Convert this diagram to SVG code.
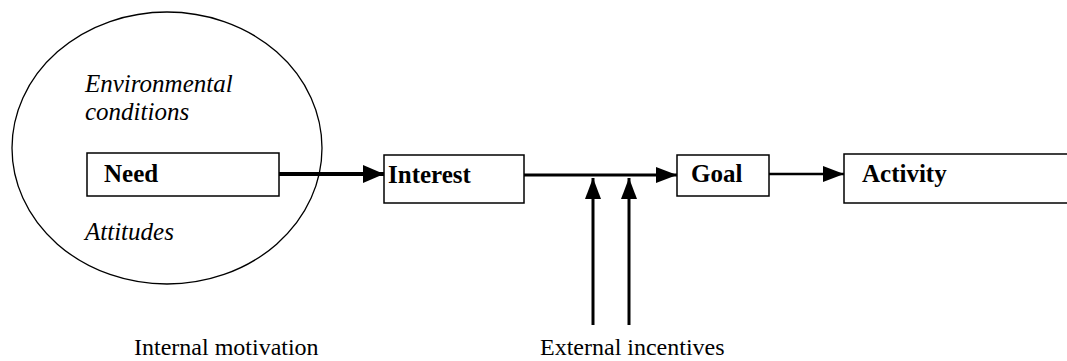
<svg xmlns="http://www.w3.org/2000/svg" width="1067" height="361" viewBox="0 0 1067 361">
  <style>
    .box { fill: #fff; stroke: #000; stroke-width: 1.5; }
    .lbl { font-family: "Liberation Serif", "Times New Roman", serif; font-size: 24px; fill: #000; }
    .b { font-weight: bold; font-size: 25px; }
    .i { font-style: italic; font-size: 25px; }
    .conn { stroke: #000; fill: none; }
  </style>
  <defs>
    <marker id="ah" markerWidth="22" markerHeight="20" refX="21" refY="10" orient="auto" markerUnits="userSpaceOnUse">
      <path d="M0,1 L21,10 L0,19 Z" fill="#000"/>
    </marker>
    <marker id="ah2" markerWidth="22" markerHeight="18" refX="21" refY="9" orient="auto" markerUnits="userSpaceOnUse">
      <path d="M0,1 L21,9 L0,17 Z" fill="#000"/>
    </marker>
  </defs>
  <rect width="1067" height="361" fill="#fff"/>

  <g id="context">
    <ellipse cx="167" cy="148" rx="155" ry="136" fill="none" stroke="#000" stroke-width="1.3"/>
    <text class="lbl i" x="85" y="92">Environmental</text>
    <text class="lbl i" x="85" y="120">conditions</text>
    <text class="lbl i" x="85" y="240">Attitudes</text>
  </g>

  <g id="need">
    <rect class="box" x="87" y="153" width="192" height="43"/>
    <text class="lbl b" x="104" y="182">Need</text>
  </g>

  <g id="interest">
    <rect class="box" x="384" y="155" width="140" height="48"/>
    <text class="lbl b" x="388" y="183">Interest</text>
  </g>

  <g id="goal">
    <rect class="box" x="677" y="155" width="92" height="41"/>
    <text class="lbl b" x="691" y="182">Goal</text>
  </g>

  <g id="activity">
    <rect class="box" x="844" y="154" width="240" height="49"/>
    <text class="lbl b" x="862" y="182">Activity</text>
  </g>

  <g id="connectors">
    <line class="conn" x1="279" y1="174" x2="384" y2="174" stroke-width="4" marker-end="url(#ah)"/>
    <line class="conn" x1="524" y1="175" x2="677" y2="175" stroke-width="3" marker-end="url(#ah2)"/>
    <line class="conn" x1="769" y1="174" x2="844" y2="174" stroke-width="2.5" marker-end="url(#ah2)"/>
    <line class="conn" x1="593" y1="325" x2="593" y2="178" stroke-width="3" marker-end="url(#ah2)"/>
    <line class="conn" x1="629" y1="325" x2="629" y2="178" stroke-width="3" marker-end="url(#ah2)"/>
  </g>

  <g id="labels">
    <text class="lbl" x="134" y="355">Internal motivation</text>
    <text class="lbl" x="540" y="355">External incentives</text>
  </g>
</svg>
